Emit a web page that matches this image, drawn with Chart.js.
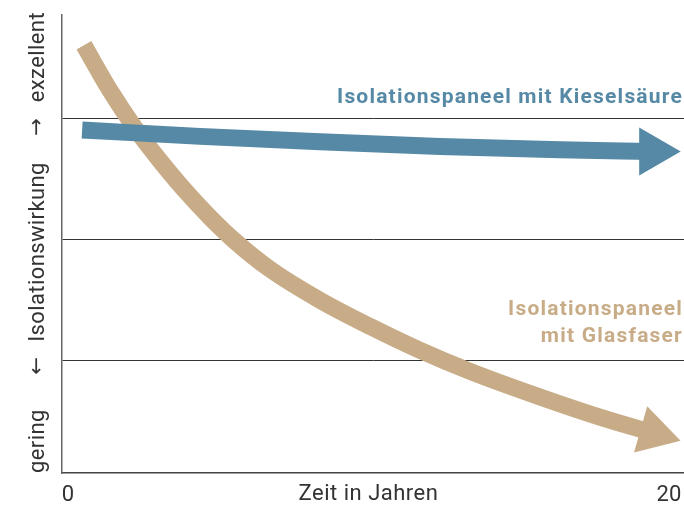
<!DOCTYPE html>
<html lang="de">
<head>
<meta charset="utf-8">
<title>Isolationswirkung über die Zeit</title>
<script src="https://cdn.jsdelivr.net/npm/chart.js@4.4.1/dist/chart.umd.min.js"></script>
<style>
  html, body { margin: 0; padding: 0; background: #fff; }
  #wrap { width: 684px; height: 505px; }
</style>
</head>
<body>
<div id="wrap"><canvas id="isoChart"></canvas></div>
<script>
// Zeit in Jahren (x) und Isolationswirkung (y: 0 = gering, 100 = exzellent)
const kieselYears  = [0.47, 4.39, 8.39, 12.38, 16.37, 19.47];
const kieselValues = [74.9, 73.5, 72.3, 71.3, 70.6, 70.2];

const glasYears  = [0.53, 1.4, 2.23, 3.06, 3.89, 4.73, 5.56, 6.72, 8.39, 10.05, 11.71, 13.38, 15.71, 17.7, 19.5];
const glasValues = [93.4, 83.5, 75.3, 68.2, 61.7, 55.8, 50.6, 44.5, 37.7, 32.0, 26.8, 22.2, 16.6, 12.2, 8.7];

const xTickValues = [0, 20];
const yGridValues = [24.5, 51, 77.5];

const seriesNames = ['Isolationspaneel mit Kieselsäure', 'Isolationspaneel mit Glasfaser'];
const seriesLabelLines = [['Isolationspaneel mit Kieselsäure'], ['Isolationspaneel', 'mit Glasfaser']];
const yAxisWords = ['gering', 'Isolationswirkung', 'exzellent'];
const yAxisArrows = ['\u2190', '\u2192'];
const xAxisTitle = 'Zeit in Jahren';

const BLUE = '#5589a5';
const TAN = '#c8ac87';
const FONT = "Roboto, 'Noto Sans', sans-serif";

// turn year/value arrays into points
const toPoints = (xs, ys) => xs.map((x, i) => ({ x: x, y: ys[i] }));

// only the last point gets drawn - it is the arrow head
const headRadius = (arr, r) => arr.map((_, i) => (i === arr.length - 1 ? r : 0));

// Texts: y axis words, x axis title, series labels
const textPlugin = {
    id: 'textPlugin',
    afterDraw(chart) {
        const { ctx, chartArea, scales } = chart;
        ctx.save();

        // y axis words (rotated, read bottom to top)
        ctx.save();
        ctx.translate(37, 0);
        ctx.rotate(-Math.PI / 2);
        ctx.fillStyle = '#333';
        ctx.textBaseline = 'middle';
        ctx.font = '22px ' + FONT;
        ctx.letterSpacing = '0.4px';
        ctx.textAlign = 'left';
        ctx.fillText(yAxisWords[0], -chartArea.bottom, 1);
        ctx.textAlign = 'center';
        ctx.fillText(yAxisWords[1], -252, 1);
        ctx.textAlign = 'right';
        ctx.fillText(yAxisWords[2], -chartArea.top + 3, 1);
        ctx.letterSpacing = '0px';
        ctx.font = "21px 'DejaVu Sans', sans-serif";
        ctx.textAlign = 'center';
        ctx.fillText(yAxisArrows[0], -366, 1);
        ctx.fillText(yAxisArrows[1], -127, 1);
        ctx.restore();

        // x axis title, on the same line as the tick labels
        ctx.fillStyle = '#333';
        ctx.font = '22px ' + FONT;
        ctx.letterSpacing = '0.5px';
        ctx.textAlign = 'center';
        ctx.textBaseline = 'alphabetic';
        ctx.fillText(xAxisTitle, scales.x.getPixelForValue(10), chartArea.bottom + 27);

        // series labels
        ctx.font = 'bold 21px ' + FONT;
        ctx.letterSpacing = '1.2px';
        ctx.textAlign = 'right';
        const right = chartArea.right - 1;
        ctx.fillStyle = BLUE;
        ctx.fillText(seriesLabelLines[0][0], right, scales.y.getPixelForValue(80.8));
        ctx.fillStyle = TAN;
        ctx.fillText(seriesLabelLines[1][0], right, scales.y.getPixelForValue(34.5));
        ctx.fillText(seriesLabelLines[1][1], right, scales.y.getPixelForValue(28.6));

        ctx.restore();
    }
};

const ctx = document.getElementById('isoChart');

new Chart(ctx, {
    type: 'line',
    data: {
        datasets: [
            {
                label: seriesNames[0],
                data: toPoints(kieselYears, kieselValues),
                borderColor: BLUE,
                backgroundColor: BLUE,
                borderWidth: 17,
                borderCapStyle: 'butt',
                cubicInterpolationMode: 'monotone',
                pointStyle: 'triangle',
                pointRadius: headRadius(kieselYears, 27.7),
                pointRotation: 90,
                pointBorderWidth: 0,
                pointBackgroundColor: BLUE,
                clip: false,
                order: 0
            },
            {
                label: seriesNames[1],
                data: toPoints(glasYears, glasValues),
                borderColor: TAN,
                backgroundColor: TAN,
                borderWidth: 17,
                borderCapStyle: 'butt',
                cubicInterpolationMode: 'monotone',
                pointStyle: 'triangle',
                pointRadius: headRadius(glasYears, 27.7),
                pointRotation: 106,
                pointBorderWidth: 0,
                pointBackgroundColor: TAN,
                clip: false,
                order: 1
            }
        ]
    },
    options: {
        responsive: true,
        maintainAspectRatio: false,
        animation: false,
        events: [],
        layout: {
            autoPadding: false,
            padding: { top: 15, right: 0, bottom: 0, left: 0 }
        },
        plugins: {
            legend: { display: false },
            tooltip: { enabled: false }
        },
        scales: {
            x: {
                type: 'linear',
                min: -0.2,
                max: 20.5,
                afterBuildTicks: (scale) => {
                    scale.ticks = xTickValues.map(v => ({ value: v }));
                },
                afterFit: (scale) => { scale.height = 32; },
                grid: { display: false },
                border: { display: true, color: '#444', width: 1.5 },
                ticks: {
                    color: '#333',
                    font: { family: FONT, size: 22 },
                    padding: 1,
                    maxRotation: 0,
                    autoSkip: false
                }
            },
            y: {
                min: 0,
                max: 100,
                afterBuildTicks: (scale) => {
                    scale.ticks = yGridValues.map(v => ({ value: v }));
                },
                afterFit: (scale) => { scale.width = 62; },
                grid: { color: '#333', lineWidth: 1, drawTicks: false },
                border: { display: true, color: '#666', width: 1.5 },
                ticks: { display: false }
            }
        }
    },
    plugins: [textPlugin]
});
</script>
</body>
</html>
